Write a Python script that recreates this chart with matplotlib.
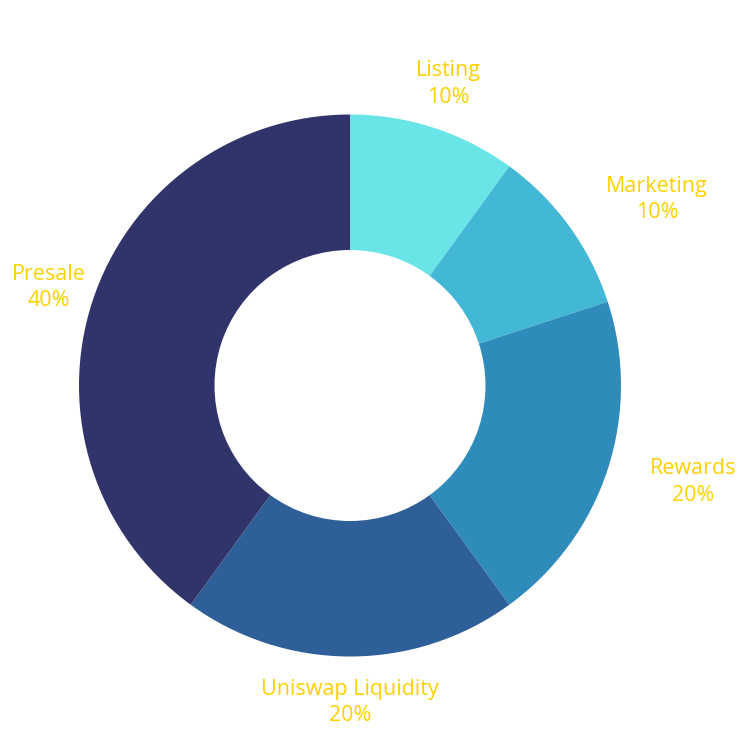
import numpy as np
import matplotlib
matplotlib.use('Agg')
import matplotlib.pyplot as plt

labels = ['Listing', 'Marketing', 'Rewards', 'Uniswap Liquidity', 'Presale']
shares = [10, 10, 20, 20, 40]
colors = ['#69e5e8', '#42b8d6', '#2e8bba', '#2e5f99', '#30346a']
# label placement: distance in outer radii, angle shift (deg, clockwise) from slice middle
label_dist = [1.17, 1.325, 1.317, 1.17, 1.17]
label_shift = [0, 4.8, -2.3, 0, 0]

plt.rcParams['font.family'] = ['Open Sans', 'DejaVu Sans']

fig = plt.figure(figsize=(7.5, 7.5), dpi=100)
ax = fig.add_axes([0, 0, 1, 1])

cx, cy, r = 350, -385.5, 271
ax.pie(shares, colors=colors, startangle=90, counterclock=False,
       center=(cx, cy), radius=r, frame=True,
       wedgeprops=dict(width=r * 0.5, linewidth=0))
ax.set_xlim(0, 750)
ax.set_ylim(-750, 0)
ax.set_aspect('equal')
ax.axis('off')

start = 90.0
total = sum(shares)
for lab, s, d, sh in zip(labels, shares, label_dist, label_shift):
    mid = np.deg2rad(start - 360 * s / total / 2 - sh)
    start -= 360 * s / total
    x = cx + d * r * np.cos(mid)
    y = cy + d * r * np.sin(mid)
    ax.text(x, y, f'{lab}\n{s}%', ha='center', va='center', fontsize=15.5,
            color='#ffd000', linespacing=1.35)

fig.savefig('out.png', dpi=100, facecolor='white')
